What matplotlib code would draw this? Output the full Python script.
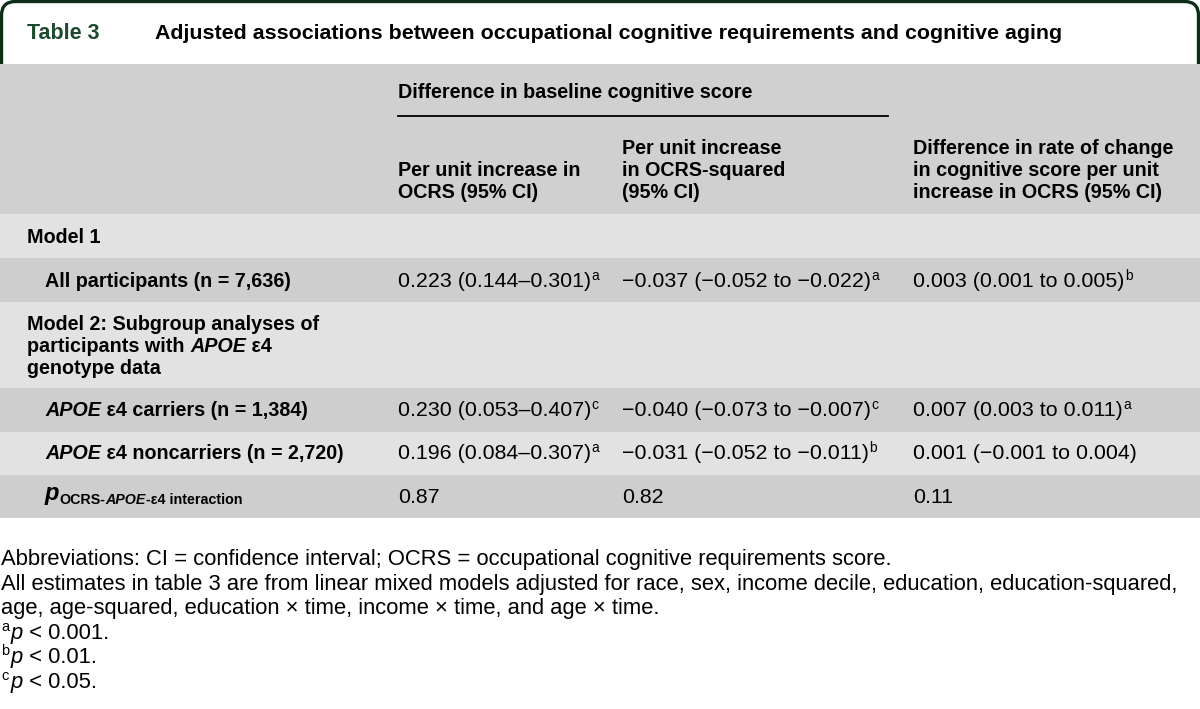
import matplotlib
matplotlib.use("Agg")
import matplotlib.pyplot as plt
from matplotlib.patches import Rectangle, FancyBboxPatch

plt.rcParams['font.family'] = ['Liberation Sans', 'DejaVu Sans']

### Table content
table_label = "Table 3"
table_title = "Adjusted associations between occupational cognitive requirements and cognitive aging"
group_header = "Difference in baseline cognitive score"
col_headers = [
    ["Per unit increase in", "OCRS (95% CI)"],
    ["Per unit increase", "in OCRS-squared", "(95% CI)"],
    ["Difference in rate of change", "in cognitive score per unit", "increase in OCRS (95% CI)"],
]

all_vals = ["0.223 (0.144–0.301)", "\u22120.037 (\u22120.052 to \u22120.022)", "0.003 (0.001 to 0.005)"]
all_sup = ["a", "a", "b"]
carrier_vals = ["0.230 (0.053–0.407)", "\u22120.040 (\u22120.073 to \u22120.007)", "0.007 (0.003 to 0.011)"]
carrier_sup = ["c", "c", "a"]
noncarrier_vals = ["0.196 (0.084–0.307)", "\u22120.031 (\u22120.052 to \u22120.011)", "0.001 (\u22120.001 to 0.004)"]
noncarrier_sup = ["a", "b", ""]
p_interaction = ["0.87", "0.82", "0.11"]

footnotes = [
    "Abbreviations: CI = confidence interval; OCRS = occupational cognitive requirements score.",
    "All estimates in table 3 are from linear mixed models adjusted for race, sex, income decile, education, education-squared,",
    "age, age-squared, education \u00d7 time, income \u00d7 time, and age \u00d7 time.",
]
sig_marks = ["a", "b", "c"]
sig_levels = ["0.001", "0.01", "0.05"]

### Colours
GREEN = "#0c2e17"
HEAD_BG = "#cfd0cf"
LIGHT = "#e2e2e3"
DARK = "#cdcecd"

BOLD = 14.2   # labels / headers
VAL = 15.4    # cell values
FOOT = 15.85

fig = plt.figure(figsize=(12, 7.09), dpi=100)
ax = fig.add_axes([0, 0, 1, 1])
ax.set_xlim(0, 1200)
ax.set_ylim(709, 0)
ax.axis("off")
renderer = fig.canvas.get_renderer()


def runs(x, y, parts, size=BOLD, color="black"):
    # draw (text, weight, style, dy, size_scale) pieces left to right
    for txt, weight, style, dy, scale in parts:
        t = ax.text(x, y + dy, txt, fontsize=size * scale, fontweight=weight,
                    fontstyle=style, color=color, va="baseline", ha="left", zorder=3)
        x += t.get_window_extent(renderer).width
    return x


def value(x, y, txt, sup):
    t = ax.text(x, y, txt, fontsize=VAL, va="baseline", ha="left", zorder=3)
    if sup:
        xe = x + t.get_window_extent(renderer).width
        ax.text(xe + 0.5, y - 7, sup, fontsize=10, va="baseline", ha="left", zorder=3)


# title box
box = FancyBboxPatch((1.5, 1.5), 1197, 90, boxstyle="round,pad=0,rounding_size=14",
                     fc="white", ec=GREEN, lw=2.4, zorder=0)
ax.add_patch(box)
ax.text(27, 39, table_label, fontsize=15.5, fontweight="bold", color="#1d4a2c", va="baseline")
ax.text(155, 39, table_title, fontsize=15.4, fontweight="bold", color="black", va="baseline")

# row bands
bands = [(64, 214, HEAD_BG), (214, 258, LIGHT), (258, 302, DARK), (302, 388, LIGHT),
         (388, 432, DARK), (432, 475, LIGHT), (475, 518, DARK)]
for y0, y1, c in bands:
    ax.add_patch(Rectangle((0, y0), 1200, y1 - y0, fc=c, ec="none", zorder=1))
ax.add_patch(Rectangle((0, 518), 1200, 191, fc="white", ec="none", zorder=1))

col_x = [398, 622, 913]

# header
ax.text(col_x[0], 98, group_header, fontsize=BOLD, fontweight="bold", va="baseline", zorder=3)
ax.plot([398, 888], [116, 116], color="black", lw=1.3, zorder=3)
for cx, lines in zip(col_x, col_headers):
    start = 198 - 22 * (len(lines) - 1)
    for i, ln in enumerate(lines):
        ax.text(cx, start + 22 * i, ln, fontsize=BOLD, fontweight="bold", va="baseline", zorder=3)

# row labels
ax.text(27, 243, "Model 1", fontsize=BOLD, fontweight="bold", va="baseline", zorder=3)
ax.text(45, 287, "All participants (n = 7,636)", fontsize=BOLD, fontweight="bold", va="baseline", zorder=3)
ax.text(27, 330, "Model 2: Subgroup analyses of", fontsize=BOLD, fontweight="bold", va="baseline", zorder=3)
runs(27, 352, [("participants with ", "bold", "normal", 0, 1),
               ("APOE", "bold", "italic", 0, 1),
               (" \u03b54", "bold", "normal", 0, 1)])
ax.text(27, 374, "genotype data", fontsize=BOLD, fontweight="bold", va="baseline", zorder=3)
runs(45, 416, [("APOE", "bold", "italic", 0, 1), (" \u03b54 carriers (n = 1,384)", "bold", "normal", 0, 1)])
runs(45, 459, [("APOE", "bold", "italic", 0, 1), (" \u03b54 noncarriers (n = 2,720)", "bold", "normal", 0, 1)])
runs(45, 500, [("p", "bold", "italic", 0, 1.2),
               ("OCRS-", "bold", "normal", 4, 0.72),
               ("APOE", "bold", "italic", 4, 0.72),
               ("-\u03b54 interaction", "bold", "normal", 4, 0.72)])

# values
for i in range(3):
    value(col_x[i], 287, all_vals[i], all_sup[i])
    value(col_x[i], 416, carrier_vals[i], carrier_sup[i])
    value(col_x[i], 459, noncarrier_vals[i], noncarrier_sup[i])
    ax.text(col_x[i], 503, p_interaction[i], fontsize=VAL, va="baseline", zorder=3)

# footnotes
fy = 565
step = 24.6
for i, ln in enumerate(footnotes):
    ax.text(1, fy + step * i, ln, fontsize=FOOT, va="baseline", zorder=3)
for j, (m, lv) in enumerate(zip(sig_marks, sig_levels)):
    y = fy + step * (3 + j)
    ax.text(1, y - 8, m, fontsize=10.5, va="baseline", zorder=3)
    runs(11, y, [("p", "normal", "italic", 0, 1), (" < " + lv + ".", "normal", "normal", 0, 1)], size=FOOT)

plt.savefig("out.png", dpi=100)
